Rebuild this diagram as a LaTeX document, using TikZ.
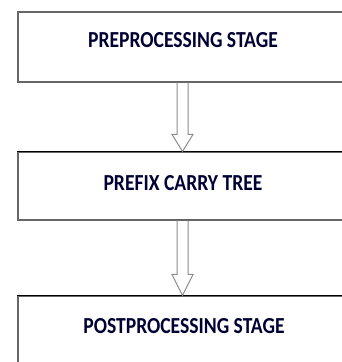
\documentclass[tikz,border=0pt]{standalone}
\usepackage{fontspec}
\setmainfont{Carlito}
\usepackage{tikz}
\usetikzlibrary{positioning}

\begin{document}
\begin{tikzpicture}[x=1pt,y=-1pt,
    stage box/.style={rectangle,draw=black!60,line width=1.1pt,minimum width=329pt,inner sep=0pt},
    stage text/.style={font=\fontsize{19.6}{20}\selectfont\bfseries,text=black!80!blue,anchor=base,inner sep=0pt},
    top edge/.style={draw=black,line width=1.2pt},
    pipe/.style={draw=black!45,line width=1pt,line join=miter}]
   \useasboundingbox (0,0) rectangle (341,362);
   \begin{scope}
      % boxes
      \node[stage box,minimum height=70pt] (pre) at (182.5,47) {};
      \node[stage box,minimum height=68pt] (pct) at (182.5,186) {};
      \node[stage box,minimum height=70pt] (post) at (182.5,331) {};
      \path[top edge] (pct.north west) -- (pct.north east);
      \path[top edge] (post.north west) -- (post.north east);
      % texts
      \node[stage text] (pretext) at (183,47) {\scalebox{1}[1.17]{PREPROCESSING STAGE}};
      \node[stage text] (pcttext) at (183,190) {\scalebox{1}[1.17]{PREFIX CARRY TREE}};
      \node[stage text] (posttext) at (184,333) {\scalebox{1}[1.17]{POSTPROCESSING STAGE}};
      % hollow arrows
      \path[pipe] ([xshift=-5.5pt]pre.south) |- ([xshift=-10.5pt,yshift=17pt]pct.north) -- (pct.north)
          -- ([xshift=10.5pt,yshift=17pt]pct.north) -| ([xshift=5.5pt]pre.south);
      \path[pipe] ([xshift=-5.5pt]pct.south) |- ([xshift=-10.5pt,yshift=21pt]post.north) -- (post.north)
          -- ([xshift=10.5pt,yshift=21pt]post.north) -| ([xshift=5.5pt]pct.south);
   \end{scope}
\end{tikzpicture}
\end{document}
